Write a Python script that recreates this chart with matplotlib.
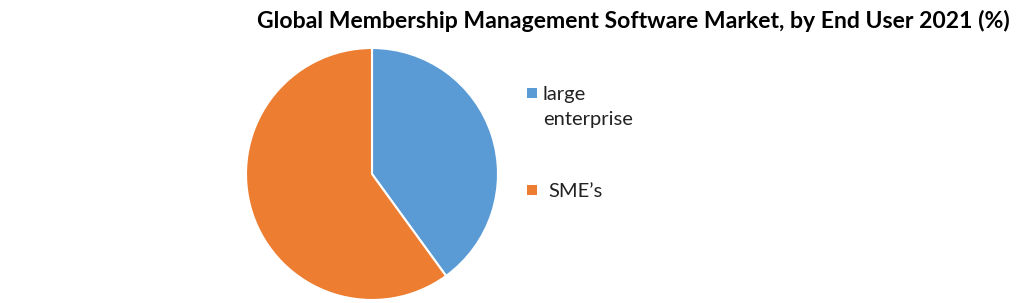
import matplotlib
matplotlib.use("Agg")
import matplotlib.pyplot as plt
from matplotlib.patches import Rectangle

TITLE = "Global Membership Management Software Market, by End User 2021 (%)"
labels = ["large\nenterprise", "SME\u2019s"]
shares = [40, 60]
colors = ["#5b9bd5", "#ed7d31"]

W, H = 1020, 303
fig = plt.figure(figsize=(W / 100, H / 100), dpi=100)
fig.patch.set_facecolor("white")
plt.rcParams["font.family"] = ["Lato", "DejaVu Sans"]

# pie centred at (372, 174) px, radius 126 px
cx, cy, r = 372, 174, 126
ax = fig.add_axes([(cx - r) / W, (H - cy - r) / H, 2 * r / W, 2 * r / H])
ax.pie(shares, colors=colors, startangle=90, counterclock=False,
       wedgeprops=dict(edgecolor="white", linewidth=1.5))
ax.set_xlim(-1, 1)
ax.set_ylim(-1, 1)
ax.set_aspect("equal")
ax.axis("off")

fig.text(633 / W, 1 - 21 / H, TITLE, ha="center", va="center",
         fontsize=16.6, fontweight="bold", color="black")

# legend
leg_y = [93, 190]
text_x = [543, 548]
for lab, col, y, tx in zip(labels, colors, leg_y, text_x):
    fig.patches.append(Rectangle((527 / W, 1 - (y + 5) / H), 10 / W, 10 / H,
                                 transform=fig.transFigure, facecolor=col,
                                 edgecolor="none"))
    fig.text(tx / W, 1 - (y - 7) / H, lab, ha="left", va="top",
             fontsize=14.5, color="#222222", linespacing=1.55)

fig.savefig("out.png", dpi=100, facecolor="white")
